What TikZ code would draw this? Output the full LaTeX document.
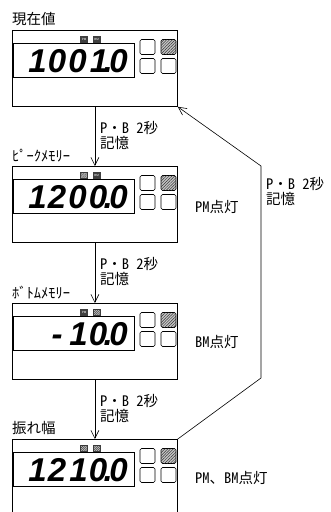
\documentclass[tikz,border=0pt]{standalone}
\usepackage{fontspec}
\setmainfont{Liberation Sans}
\newfontfamily\jpfont[RawFeature=+hwid]{Noto Sans CJK JP}
\usetikzlibrary{arrows.meta}
\usetikzlibrary{patterns.meta}
% one digit cell of the display
\newcommand{\dg}[2][c]{\makebox[20.5pt][#1]{#2}}
\newcommand{\dpt}{\llap{.\kern-4.5pt}}

\begin{document}
\begin{tikzpicture}[x=1pt, y=-1pt,
    panel/.style={draw, line width=0.8pt, minimum width=165pt, minimum height=76pt, inner sep=0pt, anchor=north west},
    lcdwin/.style={draw, line width=0.6pt, minimum width=121pt, minimum height=34pt, inner sep=0pt, anchor=north west},
    readout/.style={inner sep=0pt, anchor=east, font=\fontsize{33}{33}\selectfont\bfseries\itshape},
    key/.style={draw, line width=0.6pt, rounded corners=1.5pt, minimum size=15pt, inner sep=0pt},
    keylit/.style={key, fill=gray!45, postaction={pattern={Lines[angle=45, distance=2pt, line width=0.5pt]}, pattern color=black!80}},
    lamp/.style={draw=black!75, fill=black!75, minimum width=7pt, minimum height=6pt, inner sep=0pt, text=white, font=\fontsize{3}{3}\selectfont},
    lamplit/.style={lamp, fill=gray!50, postaction={pattern={Lines[angle=45, distance=1.5pt, line width=0.4pt]}, pattern color=black!80}},
    txt/.style={inner sep=0pt, font=\jpfont\fontsize{14.5}{15}\selectfont},
    flow/.style={line width=0.6pt, -{Straight Barb[length=8pt, width=8pt]}}]
  \useasboundingbox (0, 0) rectangle (331, 512);

  % panels
  \node[panel] (b1) at (12, 30) {};
  \node[panel] (b2) at (12, 166) {};
  \node[panel] (b3) at (12, 303) {};
  \node[panel] (b4) at (12, 439) {};

  % titles
  \node[txt, anchor=south west] (t1) at (12, 26) {現在値};
  \node[txt, anchor=south west] (t2) at (12, 162) {ﾋﾟｰｸﾒﾓﾘｰ};
  \node[txt, anchor=south west] (t3) at (12, 299) {ﾎﾞﾄﾑﾒﾓﾘｰ};
  \node[txt, anchor=south west] (t4) at (12, 435) {振れ幅};

  % display windows
  \node[lcdwin] (w1) at (13, 43) {};
  \node[lcdwin] (w2) at (13, 179) {};
  \node[lcdwin] (w3) at (13, 316) {};
  \node[lcdwin] (w4) at (13, 452) {};

  \node[readout] (d1) at (129, 61) {\dg[r]{1}\dg{0}\dg{0}\dg[r]{1}\dpt\dg{0}};
  \node[readout] (d2) at (129, 197) {\dg[r]{1}\dg{2}\dg{0}\dg{0}\dpt\dg{0}};
  \node[readout] (d3) at (129, 334) {\dg{}\dg{-}\dg[r]{1}\dg{0}\dpt\dg{0}};
  \node[readout] (d4) at (129, 470) {\dg[r]{1}\dg{2}\dg[r]{1}\dg{0}\dpt\dg{0}};

  % PM / BM lamps
  \node[lamp] (p1) at (84, 39) {PM};
  \node[lamp] (m1) at (96.5, 39) {BM};
  \node[lamplit] (p2) at (84, 175) {};
  \node[lamp] (m2) at (96.5, 175) {BM};
  \node[lamp] (p3) at (84, 312) {PM};
  \node[lamplit] (m3) at (96.5, 312) {};
  \node[lamplit] (p4) at (84, 448) {};
  \node[lamplit] (m4) at (96.5, 448) {};

  % keys
  \foreach \t [count=\i] in {30, 166, 303, 439} {
    \node[key] (k\i a) at (147.5, \t + 17) {};
    \node[keylit] (k\i b) at (168.5, \t + 17) {};
    \node[key] (k\i c) at (147.5, \t + 36) {};
    \node[key] (k\i d) at (168.5, \t + 36) {};
  }

  % lamp states
  \node[txt, anchor=west] (s2) at (195, 207) {PM点灯};
  \node[txt, anchor=west] (s3) at (195, 342) {BM点灯};
  \node[txt, anchor=west] (s4) at (195, 478) {PM、BM点灯};

  % transitions
  \draw[flow] (b1.south) -- (b2.north);
  \draw[flow] (b2.south) -- (b3.north);
  \draw[flow] (b3.south) -- (b4.north);
  \node[txt, anchor=north west, align=left] (l1) at (100, 121) {P・B 2秒\\記憶};
  \node[txt, anchor=north west, align=left] (l2) at (100, 257) {P・B 2秒\\記憶};
  \node[txt, anchor=north west, align=left] (l3) at (100, 394) {P・B 2秒\\記憶};

  \coordinate (r1) at (261, 378);
  \coordinate (r2) at (261, 166);
  \draw[flow] (b4.north east) -- (r1) -- (r2) -- (b1.south east);
  \node[txt, anchor=north west, align=left] (l4) at (266, 177) {P・B 2秒\\記憶};
\end{tikzpicture}
\end{document}
